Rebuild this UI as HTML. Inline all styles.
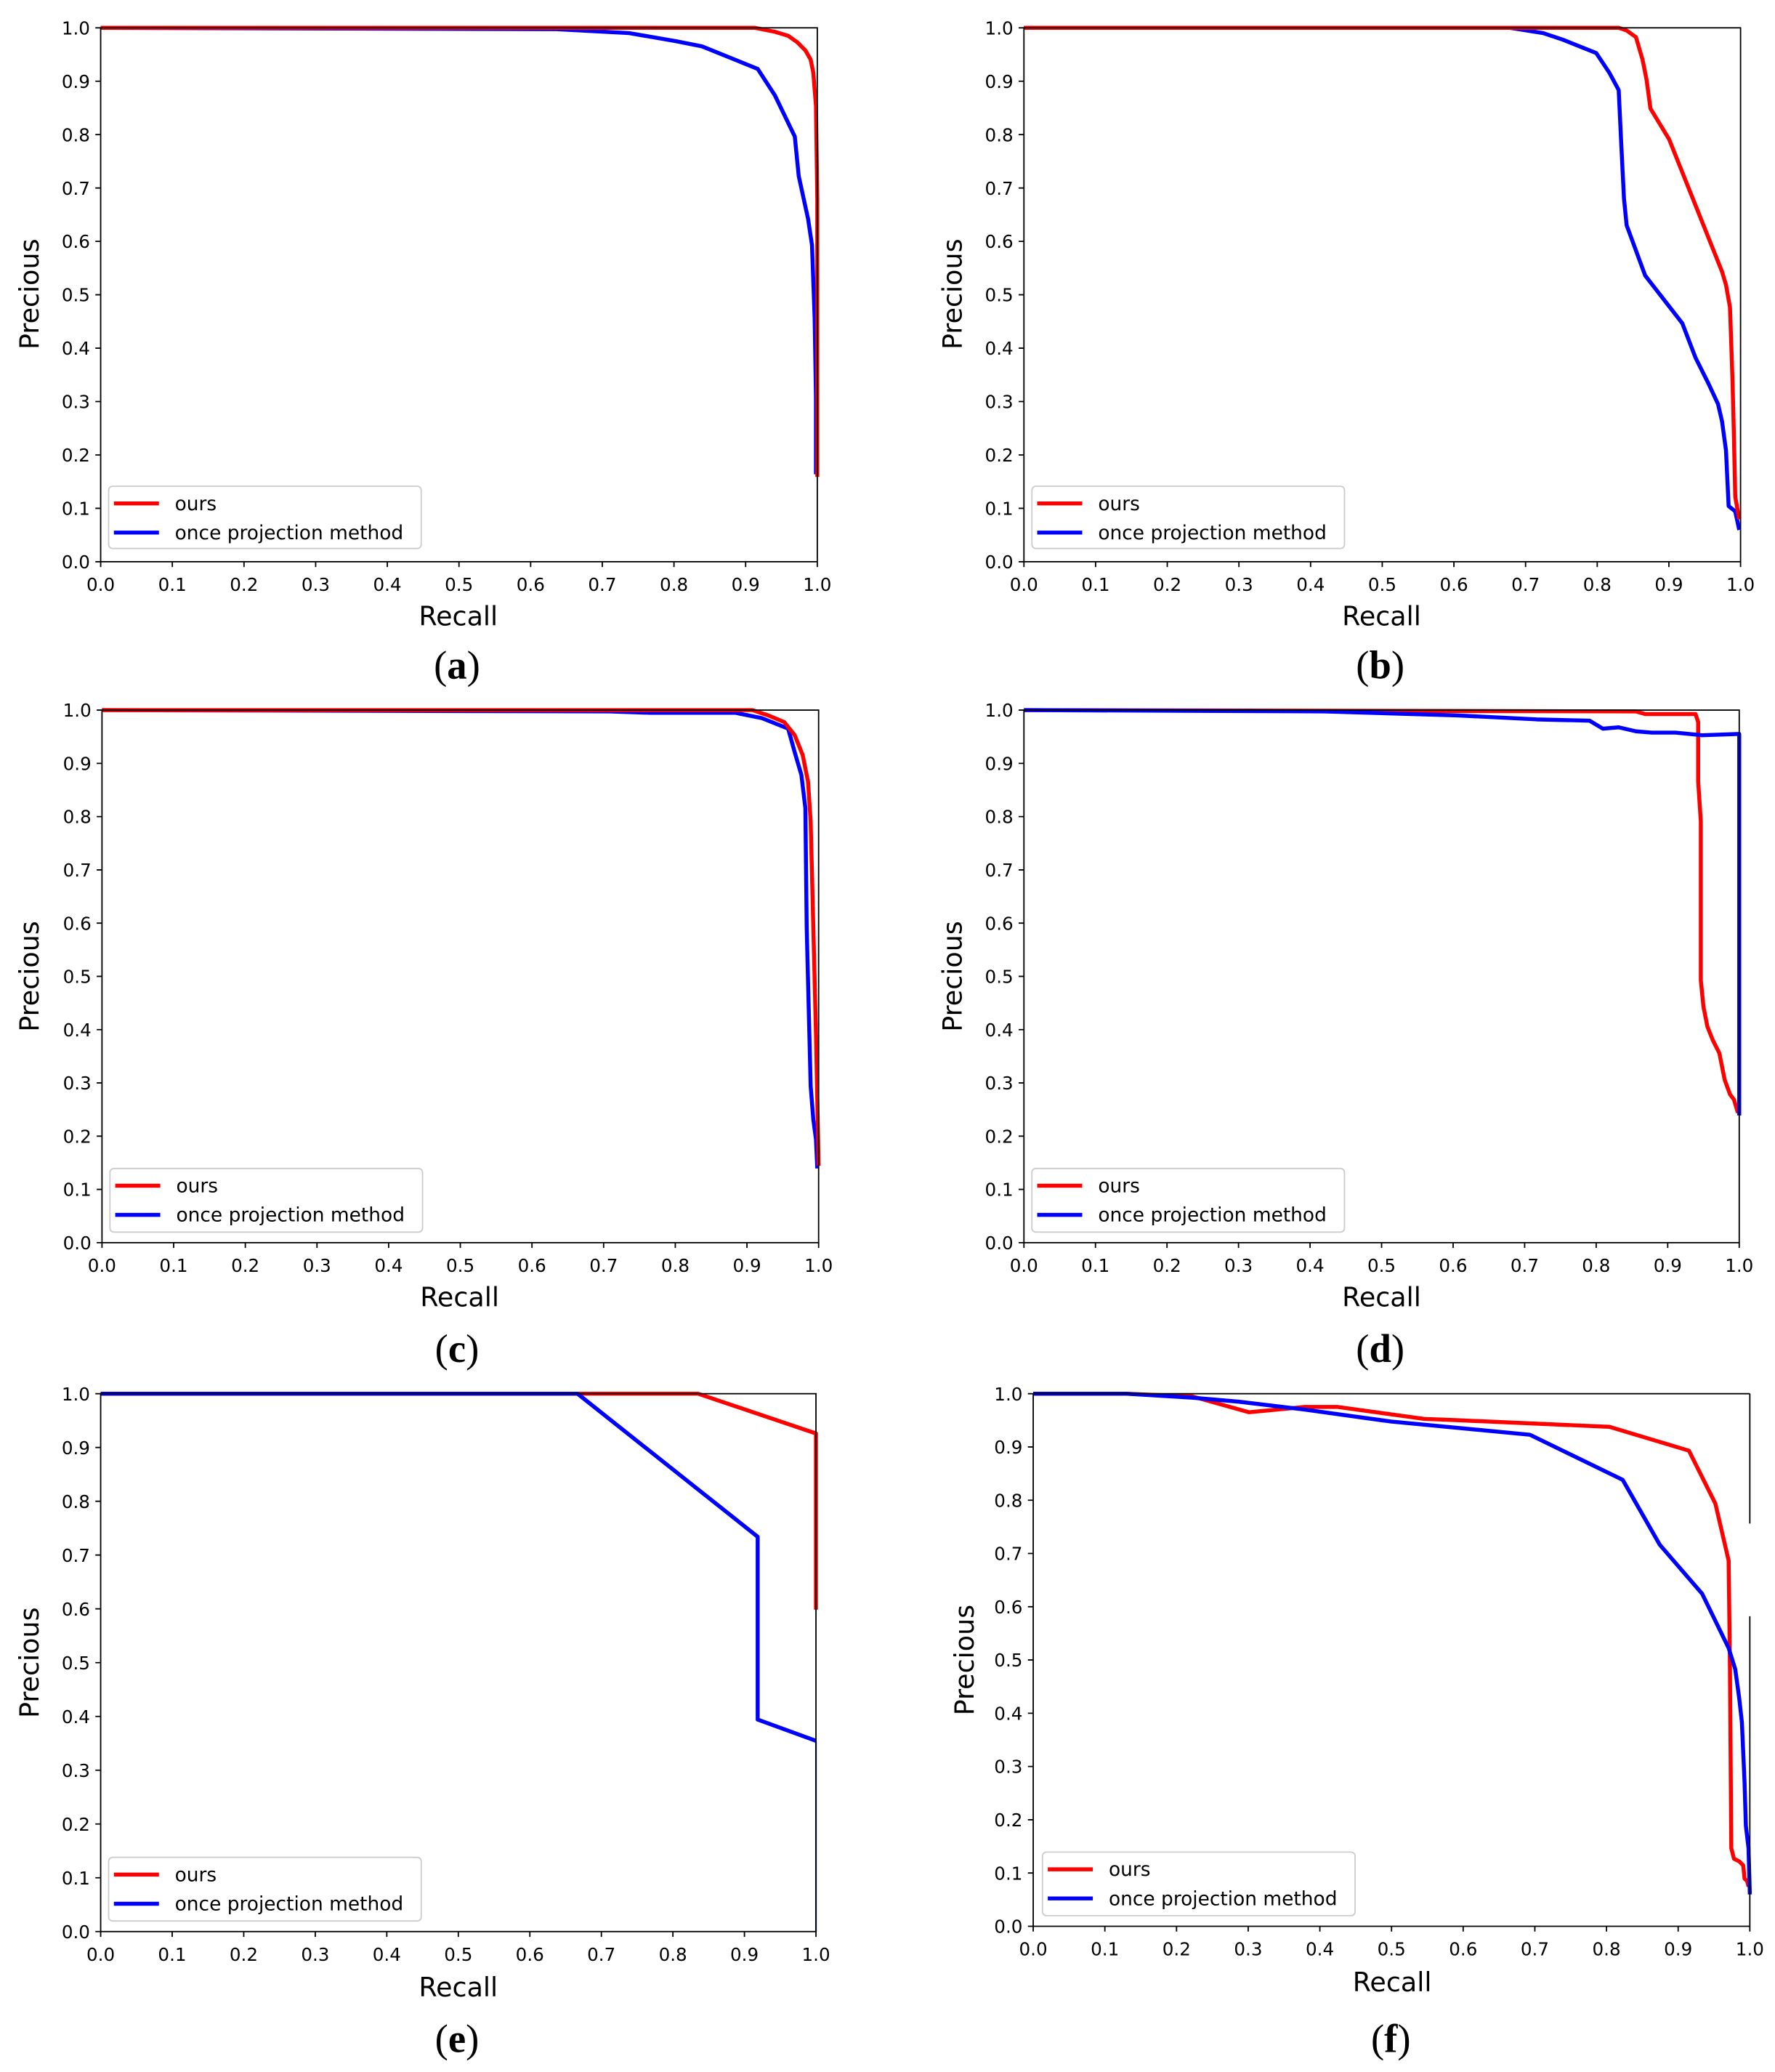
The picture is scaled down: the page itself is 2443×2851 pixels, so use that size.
<!DOCTYPE html>
<html><head><meta charset="utf-8"><style>
html,body{margin:0;padding:0;background:#fff;}
svg{display:block;}
.t{font-family:"DejaVu Sans","Liberation Sans",sans-serif;font-size:13.5px;fill:#000;}
.xl text{text-anchor:middle;}
.yl text{text-anchor:end;}
.ax{font-family:"DejaVu Sans","Liberation Sans",sans-serif;font-size:20px;text-anchor:middle;}
.lg{font-family:"DejaVu Sans","Liberation Sans",sans-serif;font-size:14.5px;}
.cap{font-family:"Liberation Serif",serif;font-size:30px;text-anchor:middle;}
.r{fill:none;stroke:#ff0000;stroke-width:3;stroke-linejoin:round;}
.b{fill:none;stroke:#0000ff;stroke-width:3;stroke-linejoin:round;}
.fr{fill:none;stroke:#000;stroke-width:1;}
.lb{fill:#fff;stroke:#ccc;stroke-width:1;}
</style></head><body>
<svg width="2443" height="2851" viewBox="0 0 1340 1564" preserveAspectRatio="none" xmlns="http://www.w3.org/2000/svg">
<rect x="0" y="0" width="1340" height="1564" fill="#fff"/>

<!-- ===== Panel a ===== -->
<polyline class="b" points="76,21 420,22 475,25 510,31 530,35 572,52 585,72 600,103 603,133 610,165 613,185 615,240 616,300 616,358"/>
<polyline class="r" points="76,21 570,21 585,24 595,27 602,32 608,38 612,45 614,55 616,80 617,150 617,360"/>
<rect class="fr" x="76" y="21" width="541" height="403"/>
<path stroke="#000" stroke-width="1" d="M76,424v4M130.1,424v4M184.2,424v4M238.3,424v4M292.4,424v4M346.5,424v4M400.6,424v4M454.7,424v4M508.8,424v4M562.9,424v4M617,424v4M76,424h-4M76,383.7h-4M76,343.4h-4M76,303.1h-4M76,262.8h-4M76,222.5h-4M76,182.2h-4M76,141.9h-4M76,101.6h-4M76,61.3h-4M76,21h-4"/>
<g class="t xl"><text x="76" y="446">0.0</text><text x="130.1" y="446">0.1</text><text x="184.2" y="446">0.2</text><text x="238.3" y="446">0.3</text><text x="292.4" y="446">0.4</text><text x="346.5" y="446">0.5</text><text x="400.6" y="446">0.6</text><text x="454.7" y="446">0.7</text><text x="508.8" y="446">0.8</text><text x="562.9" y="446">0.9</text><text x="617" y="446">1.0</text></g>
<g class="t yl"><text x="68" y="429">0.0</text><text x="68" y="388.7">0.1</text><text x="68" y="348.4">0.2</text><text x="68" y="308.1">0.3</text><text x="68" y="267.8">0.4</text><text x="68" y="227.5">0.5</text><text x="68" y="187.2">0.6</text><text x="68" y="146.9">0.7</text><text x="68" y="106.6">0.8</text><text x="68" y="66.3">0.9</text><text x="68" y="26">1.0</text></g>
<text class="ax" x="346" y="472">Recall</text>
<text class="ax" transform="translate(29,222) rotate(-90)">Precious</text>
<rect class="lb" x="82" y="367" width="236" height="47" rx="3"/>
<line x1="86" y1="380" x2="120" y2="380" class="r"/><line x1="86" y1="402" x2="120" y2="402" class="b"/>
<text class="lg" x="132" y="385">ours</text><text class="lg" x="132" y="407">once projection method</text>
<text class="cap" x="345" y="512">(<tspan font-weight="bold">a</tspan>)</text>

<!-- ===== Panel b ===== -->
<polyline class="b" points="773,21 1140,21 1165,25 1180,30 1205,40 1215,55 1222,68 1224,110 1226,150 1228,170 1242,208 1270,244 1280,270 1290,290 1297,305 1300,318 1303,340 1305,382 1310,386 1313,400"/>
<polyline class="r" points="773,21 1222,21 1228,23 1235,28 1240,45 1243,60 1246,82 1260,105 1278,150 1290,180 1300,205 1303,215 1306,232 1307,260 1308,290 1309,330 1310,375 1313,392"/>
<rect class="fr" x="773" y="21" width="541" height="403"/>
<path stroke="#000" stroke-width="1" d="M773,424v4M827.1,424v4M881.2,424v4M935.3,424v4M989.4,424v4M1043.5,424v4M1097.6,424v4M1151.7,424v4M1205.8,424v4M1259.9,424v4M1314,424v4M773,424h-4M773,383.7h-4M773,343.4h-4M773,303.1h-4M773,262.8h-4M773,222.5h-4M773,182.2h-4M773,141.9h-4M773,101.6h-4M773,61.3h-4M773,21h-4"/>
<g class="t xl"><text x="773" y="446">0.0</text><text x="827.1" y="446">0.1</text><text x="881.2" y="446">0.2</text><text x="935.3" y="446">0.3</text><text x="989.4" y="446">0.4</text><text x="1043.5" y="446">0.5</text><text x="1097.6" y="446">0.6</text><text x="1151.7" y="446">0.7</text><text x="1205.8" y="446">0.8</text><text x="1259.9" y="446">0.9</text><text x="1314" y="446">1.0</text></g>
<g class="t yl"><text x="765" y="429">0.0</text><text x="765" y="388.7">0.1</text><text x="765" y="348.4">0.2</text><text x="765" y="308.1">0.3</text><text x="765" y="267.8">0.4</text><text x="765" y="227.5">0.5</text><text x="765" y="187.2">0.6</text><text x="765" y="146.9">0.7</text><text x="765" y="106.6">0.8</text><text x="765" y="66.3">0.9</text><text x="765" y="26">1.0</text></g>
<text class="ax" x="1043" y="472">Recall</text>
<text class="ax" transform="translate(726,222) rotate(-90)">Precious</text>
<rect class="lb" x="779" y="367" width="236" height="47" rx="3"/>
<line x1="783" y1="380" x2="817" y2="380" class="r"/><line x1="783" y1="402" x2="817" y2="402" class="b"/>
<text class="lg" x="829" y="385">ours</text><text class="lg" x="829" y="407">once projection method</text>
<text class="cap" x="1042" y="512">(<tspan font-weight="bold">b</tspan>)</text>

<!-- ===== Panel c ===== -->
<polyline class="b" points="77,536 460,537 490,538 555,538 575,542 595,550 600,568 605,585 608,610 609,700 611,780 612,820 614,845 616,860 617,882"/>
<polyline class="r" points="77,536 568,536 580,540 592,545 600,555 606,570 610,590 612,620 614,700 616,780 617,830 618,880"/>
<rect class="fr" x="77" y="536" width="541" height="402"/>
<path stroke="#000" stroke-width="1" d="M77,938v4M131.1,938v4M185.2,938v4M239.3,938v4M293.4,938v4M347.5,938v4M401.6,938v4M455.7,938v4M509.8,938v4M563.9,938v4M618,938v4M77,938h-4M77,897.8h-4M77,857.6h-4M77,817.4h-4M77,777.2h-4M77,737h-4M77,696.8h-4M77,656.6h-4M77,616.4h-4M77,576.2h-4M77,536h-4"/>
<g class="t xl"><text x="77" y="960">0.0</text><text x="131.1" y="960">0.1</text><text x="185.2" y="960">0.2</text><text x="239.3" y="960">0.3</text><text x="293.4" y="960">0.4</text><text x="347.5" y="960">0.5</text><text x="401.6" y="960">0.6</text><text x="455.7" y="960">0.7</text><text x="509.8" y="960">0.8</text><text x="563.9" y="960">0.9</text><text x="618" y="960">1.0</text></g>
<g class="t yl"><text x="69" y="943">0.0</text><text x="69" y="902.8">0.1</text><text x="69" y="862.6">0.2</text><text x="69" y="822.4">0.3</text><text x="69" y="782.2">0.4</text><text x="69" y="742">0.5</text><text x="69" y="701.8">0.6</text><text x="69" y="661.6">0.7</text><text x="69" y="621.4">0.8</text><text x="69" y="581.2">0.9</text><text x="69" y="541">1.0</text></g>
<text class="ax" x="347" y="986">Recall</text>
<text class="ax" transform="translate(29,737) rotate(-90)">Precious</text>
<rect class="lb" x="83" y="882" width="236" height="48" rx="3"/>
<line x1="87" y1="895" x2="121" y2="895" class="r"/><line x1="87" y1="917" x2="121" y2="917" class="b"/>
<text class="lg" x="133" y="900">ours</text><text class="lg" x="133" y="922">once projection method</text>
<text class="cap" x="345" y="1028">(<tspan font-weight="bold">c</tspan>)</text>

<!-- ===== Panel d ===== -->
<polyline class="r" points="773,536 1235,537 1242,539 1280,539 1282,545 1282,590 1284,620 1284,740 1286,760 1289,775 1293,785 1298,795 1300,805 1302,815 1306,826 1309,830 1312,840"/>
<polyline class="b" points="773,536 1000,537 1100,540 1160,543 1200,544 1210,550 1222,549 1235,552 1247,553 1265,553 1285,555 1313,554 1313,842"/>
<rect class="fr" x="773" y="536" width="540" height="402"/>
<path stroke="#000" stroke-width="1" d="M773,938v4M827,938v4M881,938v4M935,938v4M989,938v4M1043,938v4M1097,938v4M1151,938v4M1205,938v4M1259,938v4M1313,938v4M773,938h-4M773,897.8h-4M773,857.6h-4M773,817.4h-4M773,777.2h-4M773,737h-4M773,696.8h-4M773,656.6h-4M773,616.4h-4M773,576.2h-4M773,536h-4"/>
<g class="t xl"><text x="773" y="960">0.0</text><text x="827" y="960">0.1</text><text x="881" y="960">0.2</text><text x="935" y="960">0.3</text><text x="989" y="960">0.4</text><text x="1043" y="960">0.5</text><text x="1097" y="960">0.6</text><text x="1151" y="960">0.7</text><text x="1205" y="960">0.8</text><text x="1259" y="960">0.9</text><text x="1313" y="960">1.0</text></g>
<g class="t yl"><text x="765" y="943">0.0</text><text x="765" y="902.8">0.1</text><text x="765" y="862.6">0.2</text><text x="765" y="822.4">0.3</text><text x="765" y="782.2">0.4</text><text x="765" y="742">0.5</text><text x="765" y="701.8">0.6</text><text x="765" y="661.6">0.7</text><text x="765" y="621.4">0.8</text><text x="765" y="581.2">0.9</text><text x="765" y="541">1.0</text></g>
<text class="ax" x="1043" y="986">Recall</text>
<text class="ax" transform="translate(726,737) rotate(-90)">Precious</text>
<rect class="lb" x="779" y="882" width="236" height="48" rx="3"/>
<line x1="783" y1="895" x2="817" y2="895" class="r"/><line x1="783" y1="917" x2="817" y2="917" class="b"/>
<text class="lg" x="829" y="900">ours</text><text class="lg" x="829" y="922">once projection method</text>
<text class="cap" x="1042" y="1028">(<tspan font-weight="bold">d</tspan>)</text>

<!-- ===== Panel e ===== -->
<polyline class="r" points="76,1052 527,1052 616,1082 616,1215"/>
<polyline class="b" points="76,1052 436,1052 572,1160 572,1298 616,1314"/>
<line x1="616" y1="1314" x2="616" y2="1458" stroke="#0000ff" stroke-width="1.2"/>
<rect class="fr" x="76" y="1052" width="540" height="406"/>
<path stroke="#000" stroke-width="1" d="M76,1458v4M130,1458v4M184,1458v4M238,1458v4M292,1458v4M346,1458v4M400,1458v4M454,1458v4M508,1458v4M562,1458v4M616,1458v4M76,1458h-4M76,1417.4h-4M76,1376.8h-4M76,1336.2h-4M76,1295.6h-4M76,1255h-4M76,1214.4h-4M76,1173.8h-4M76,1133.2h-4M76,1092.6h-4M76,1052h-4"/>
<g class="t xl"><text x="76" y="1480">0.0</text><text x="130" y="1480">0.1</text><text x="184" y="1480">0.2</text><text x="238" y="1480">0.3</text><text x="292" y="1480">0.4</text><text x="346" y="1480">0.5</text><text x="400" y="1480">0.6</text><text x="454" y="1480">0.7</text><text x="508" y="1480">0.8</text><text x="562" y="1480">0.9</text><text x="616" y="1480">1.0</text></g>
<g class="t yl"><text x="68" y="1463">0.0</text><text x="68" y="1422.4">0.1</text><text x="68" y="1381.8">0.2</text><text x="68" y="1341.2">0.3</text><text x="68" y="1300.6">0.4</text><text x="68" y="1260">0.5</text><text x="68" y="1219.4">0.6</text><text x="68" y="1178.8">0.7</text><text x="68" y="1138.2">0.8</text><text x="68" y="1097.6">0.9</text><text x="68" y="1057">1.0</text></g>
<text class="ax" x="346" y="1507">Recall</text>
<text class="ax" transform="translate(29,1255) rotate(-90)">Precious</text>
<rect class="lb" x="82" y="1402" width="236" height="48" rx="3"/>
<line x1="86" y1="1415" x2="120" y2="1415" class="r"/><line x1="86" y1="1437" x2="120" y2="1437" class="b"/>
<text class="lg" x="132" y="1420">ours</text><text class="lg" x="132" y="1442">once projection method</text>
<text class="cap" x="345" y="1549">(<tspan font-weight="bold">e</tspan>)</text>

<!-- ===== Panel f ===== -->
<polyline class="r" points="780,1052 850,1052 900,1054 943,1066 985,1062 1010,1062 1075,1071 1100,1072 1215,1077 1275,1095 1295,1135 1305,1178 1306,1260 1307,1395 1309,1403 1313,1405 1316,1408 1317,1418 1319,1420 1320,1424"/>
<polyline class="b" points="780,1052 850,1052 900,1055 935,1058 985,1064 1050,1073 1155,1083 1225,1117 1253,1166 1285,1203 1305,1244 1310,1260 1313,1282 1315,1300 1317,1345 1318,1378 1320,1395 1321,1430"/>
<path class="fr" d="M780,1052H1321M780,1052V1454H1321M1321,1052V1150M1321,1220V1454"/>
<path stroke="#000" stroke-width="1" d="M780,1454v4M834.1,1454v4M888.2,1454v4M942.3,1454v4M996.4,1454v4M1050.5,1454v4M1104.6,1454v4M1158.7,1454v4M1212.8,1454v4M1266.9,1454v4M1321,1454v4M780,1454h-4M780,1413.8h-4M780,1373.6h-4M780,1333.4h-4M780,1293.2h-4M780,1253h-4M780,1212.8h-4M780,1172.6h-4M780,1132.4h-4M780,1092.2h-4M780,1052h-4"/>
<g class="t xl"><text x="780" y="1476">0.0</text><text x="834.1" y="1476">0.1</text><text x="888.2" y="1476">0.2</text><text x="942.3" y="1476">0.3</text><text x="996.4" y="1476">0.4</text><text x="1050.5" y="1476">0.5</text><text x="1104.6" y="1476">0.6</text><text x="1158.7" y="1476">0.7</text><text x="1212.8" y="1476">0.8</text><text x="1266.9" y="1476">0.9</text><text x="1321" y="1476">1.0</text></g>
<g class="t yl"><text x="772" y="1459">0.0</text><text x="772" y="1418.8">0.1</text><text x="772" y="1378.6">0.2</text><text x="772" y="1338.4">0.3</text><text x="772" y="1298.2">0.4</text><text x="772" y="1258">0.5</text><text x="772" y="1217.8">0.6</text><text x="772" y="1177.6">0.7</text><text x="772" y="1137.4">0.8</text><text x="772" y="1097.2">0.9</text><text x="772" y="1057">1.0</text></g>
<text class="ax" x="1051" y="1503">Recall</text>
<text class="ax" transform="translate(735,1253) rotate(-90)">Precious</text>
<rect class="lb" x="787" y="1398" width="236" height="48" rx="3"/>
<line x1="791" y1="1411" x2="825" y2="1411" class="r"/><line x1="791" y1="1433" x2="825" y2="1433" class="b"/>
<text class="lg" x="837" y="1416">ours</text><text class="lg" x="837" y="1438">once projection method</text>
<text class="cap" x="1050" y="1549">(<tspan font-weight="bold">f</tspan>)</text>
</svg>
</body></html>
